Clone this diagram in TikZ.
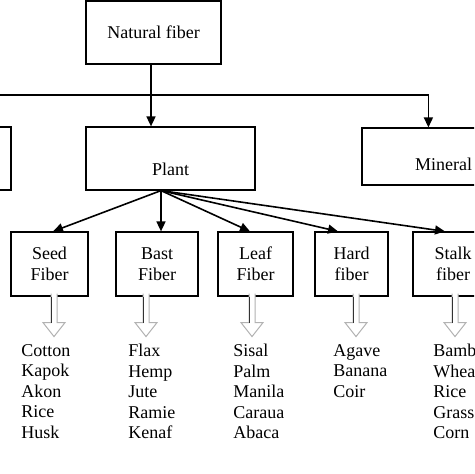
\documentclass[tikz,border=0pt]{standalone}
\usepackage{fontspec}
\setmainfont{Liberation Serif}
\usetikzlibrary{arrows.meta,calc}
\tikzset{
  mainbox/.style={draw,line width=0.6pt,inner sep=0pt,minimum height=31.5pt},
  typebox/.style={draw,line width=0.6pt,inner sep=0pt,minimum height=32pt,align=center},
  linkArrow/.style={-{Triangle[length=5pt,width=4.5pt]},line width=0.8pt},
  hollowArrow/.style={draw=black!30,fill=white,line width=0.5pt},
  fiberlist/.style={anchor=north west,inner sep=0pt,align=left}
}

\begin{document}
\begin{tikzpicture}[x=0.5pt,y=-0.5pt,font=\fontsize{9}{10.25}\selectfont]
  \useasboundingbox (0,0) rectangle (474,474);
  \clip (0,0) rectangle (474,474);
  % top levels
  \node[mainbox,minimum width=67.5pt] (nat) at (153.5,32.5) {Natural fiber};
  \node[mainbox,minimum width=80.5pt] (animal) at (-69.5,158.5) {};
  \node[mainbox,minimum width=84.5pt,text height=17.5pt,text depth=0pt] (plant) at (170.5,158.5) {Plant};
  \node[mainbox,minimum width=81.5pt,minimum height=28.5pt,text height=14.5pt,text depth=0pt] (mineral) at (443.5,156.5) {Mineral};
  \coordinate (j) at (151,95);
  \draw[line width=0.8pt] (nat.south -| j) -- (j);
  \draw[linkArrow] (j) -- (j |- plant.north);
  \draw[linkArrow] (j) -| (animal.north);
  \draw[linkArrow] (j) -| ($(mineral.north west)+(67,0)$);
  % plant fibers
  \foreach \n/\x/\w/\t in {seed/49.5/38.5/Seed\\Fiber,bast/157/41/Bast\\Fiber,
      leaf/255.5/37.5/Leaf\\Fiber,hard/351.5/36.5/Hard\\fiber,stalk/453/40/Stalk\\fiber}
    \node[typebox,minimum width=\w pt] (\n) at (\x,264) {\t};
  \coordinate (p0) at ([xshift=-4.75pt]plant.south);
  \foreach \n/\s in {seed/1.75,bast/2,leaf/-2.75,hard/-6.75,stalk/-4}
    \draw[linkArrow] (p0) -- ([xshift=\s pt]\n.north);
  % hollow arrows
  \foreach \n/\d in {seed/4.5,bast/-11,leaf/-3.5,hard/4.5,stalk/2} {
    \coordinate (top) at ($(\n.south)+(\d,-3)$);
    \draw[hollowArrow] (top) ++(-3,0) -- ++(0,29) -- ++(-8,0) -- ++(11,14)
      -- ++(11,-14) -- ++(-8,0) -- ++(0,-29);
    \draw[black!80,line width=0.5pt] (top) ++(-3,3) -- ++(0,26);
  }
  % examples
  \foreach \n/\x/\t in {seed/21/{Cotton\\Kapok\\Akon\\Rice\\Husk},
      bast/128/{Flax\\Hemp\\Jute\\Ramie\\Kenaf},
      leaf/233/{Sisal\\Palm\\Manila\\Caraua\\Abaca},
      hard/333/{Agave\\Banana\\Coir},
      stalk/433/{Bamboo\\Wheat\\Rice\\Grass\\Corn}}
    \node[fiberlist] (\n list) at (\x,344) {\t};
\end{tikzpicture}
\end{document}
